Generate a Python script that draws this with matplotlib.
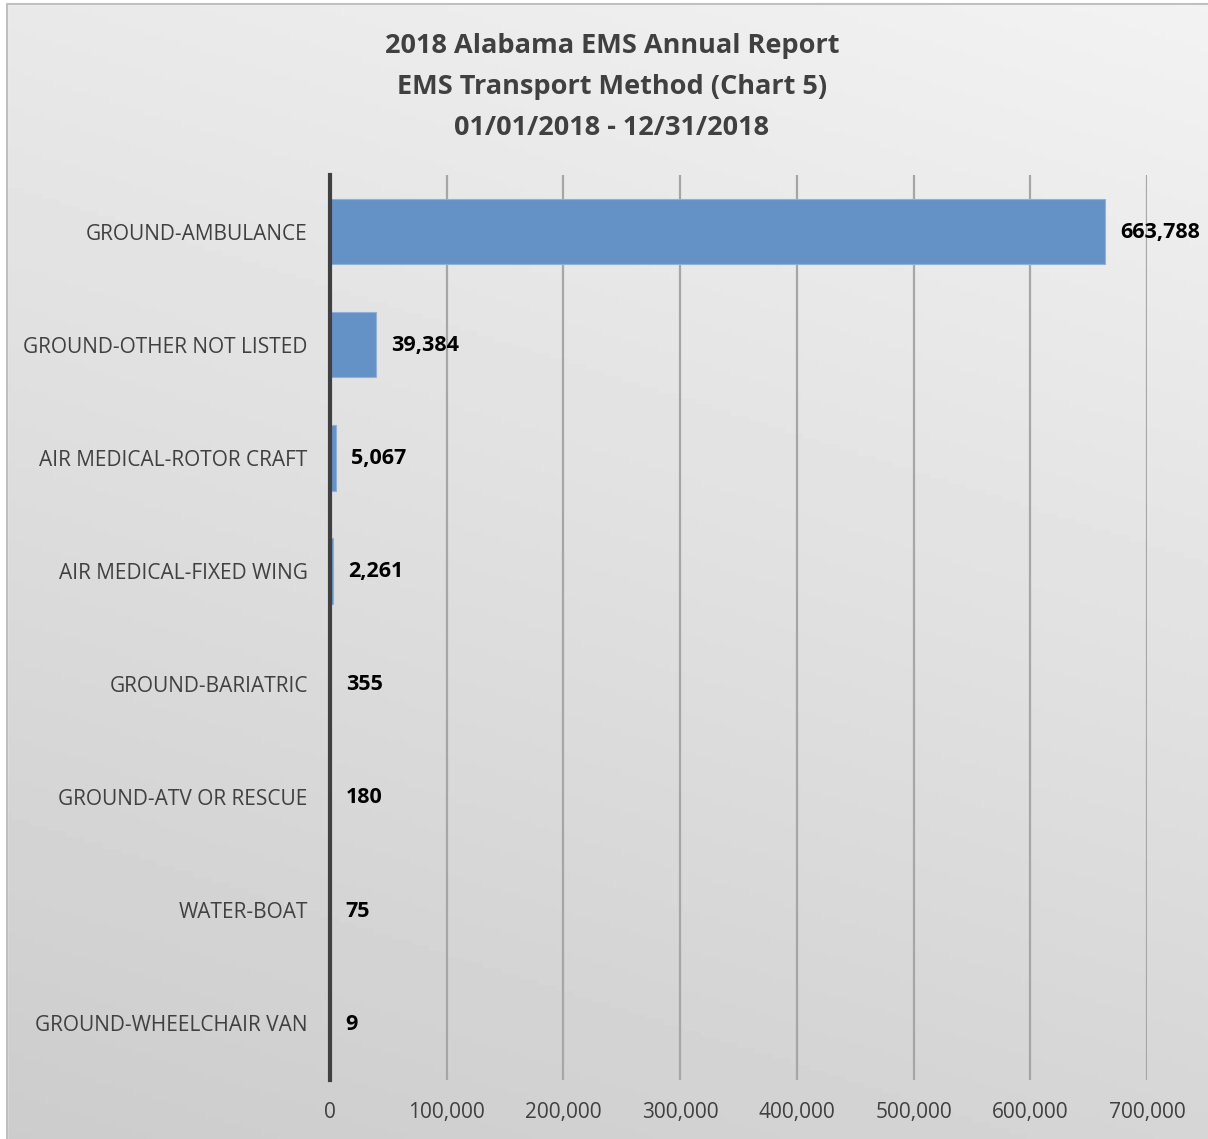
import matplotlib
matplotlib.use("Agg")
import matplotlib.pyplot as plt
import numpy as np
from matplotlib.ticker import FuncFormatter

categories = ["GROUND-AMBULANCE", "GROUND-OTHER NOT LISTED", "AIR MEDICAL-ROTOR CRAFT",
              "AIR MEDICAL-FIXED WING", "GROUND-BARIATRIC", "GROUND-ATV OR RESCUE",
              "WATER-BOAT", "GROUND-WHEELCHAIR VAN"]
values = [663788, 39384, 5067, 2261, 355, 180, 75, 9]
xticks = [0, 100000, 200000, 300000, 400000, 500000, 600000, 700000]
title_lines = ["2018 Alabama EMS Annual Report", "EMS Transport Method (Chart 5)",
               "01/01/2018 - 12/31/2018"]

plt.rcParams['font.family'] = ['Open Sans', 'DejaVu Sans']

W, H = 1208, 1139
fig = plt.figure(figsize=(W / 100, H / 100), dpi=100)
fig.patch.set_facecolor('white')

# background gradient panel
bg = fig.add_axes([0, 0, 1, 1], zorder=0)
bg.set_axis_off()
yy, xx = np.mgrid[0:1:200j, 0:1:200j]
g = 0.80 + 0.15 * (yy * 0.75 + xx * 0.25)
bg.imshow(g, cmap='gray', vmin=0, vmax=1, extent=[0, 1, 0, 1], aspect='auto', origin='lower')
bg.set_xlim(0, 1)
bg.set_ylim(0, 1)
x0 = 7 / W
y1 = 1 - 4 / H
bg.fill_between([0, 1], y1, 1, color='white', zorder=2)
bg.fill_between([0, x0], 0, 1, color='white', zorder=2)
bg.plot([x0, x0, 1], [0, y1, y1], color='#c0c0c0', lw=1.5, zorder=3)

ax = fig.add_axes([330 / W, 1 - 1080 / H, (1147 - 330) / W, (1080 - 175) / H], zorder=1)
ax.patch.set_alpha(0)
ypos = np.arange(len(categories))
ax.barh(ypos, values, height=0.58, color='#6592c6', edgecolor='#8fb0d8', linewidth=0.8, zorder=3)
ax.set_ylim(len(categories) - 0.5, -0.5)
ax.set_xlim(0, 700000)
ax.set_xticks(xticks)
ax.xaxis.set_major_formatter(FuncFormatter(lambda v, p: f"{int(v):,}"))
ax.set_yticks(ypos)
ax.set_yticklabels(categories)
ax.tick_params(axis='both', length=0, labelsize=15, colors='#404040')
ax.tick_params(axis='y', pad=16)
ax.tick_params(axis='x', pad=16)
ax.grid(axis='x', color='#a6a6a6', lw=1.6, zorder=1)
for s in ['top', 'right', 'bottom']:
    ax.spines[s].set_visible(False)
ax.spines['left'].set_color('#404040')
ax.spines['left'].set_linewidth(3)
ax.spines['left'].set_zorder(4)

for y, v in zip(ypos, values):
    ax.annotate(f"{v:,}", (v, y), xytext=(11, -0.5), textcoords='offset points',
                va='center', ha='left', fontsize=15.5, fontweight='bold', color='black')

for i, line in enumerate(title_lines):
    fig.text(612 / W, 1 - (46 + 41 * i) / H, line, ha='center', va='center',
             fontsize=19.5, fontweight='bold', color='#404040')

fig.savefig('out.png', dpi=100)
